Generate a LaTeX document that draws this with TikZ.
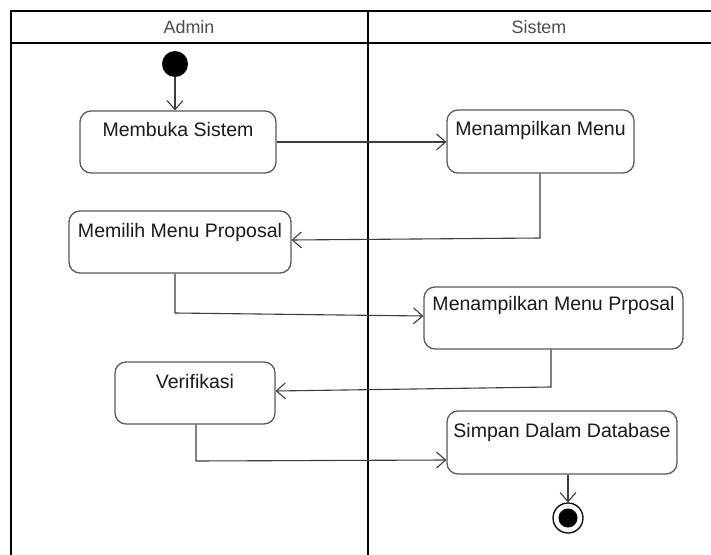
\documentclass[tikz,border=0pt]{standalone}
\usepackage{fontspec}
\setmainfont{Liberation Sans}
\usetikzlibrary{arrows.meta}
\definecolor{boxline}{HTML}{5A5A5A}
\definecolor{flowline}{HTML}{3C3C3C}
\definecolor{txt}{HTML}{1A1A1A}
\tikzset{
  act/.style={draw=boxline, line width=1.3bp, rounded corners=11bp, fill=white, inner sep=0pt},
  acttext/.style={text=txt, font=\fontsize{19.6}{21}\selectfont, inner sep=0pt, anchor=center},
  lanetext/.style={text=black!70, font=\fontsize{18}{20}\selectfont, inner sep=0pt},
  lane/.style={draw=black, line width=2.4bp},
  flow/.style={draw=flowline, line width=1.1bp, -{Straight Barb[length=9bp,width=16bp,line width=1.1bp]}},
}
\begin{document}
\begin{tikzpicture}[x=1bp,y=-1bp]
\useasboundingbox (0,0) rectangle (711,555);

% swimlane frame
\draw[lane] (11,555) -- (11,11) -- (711,11);
\draw[lane] (11,43) -- (711,43);
\draw[lane] (368,11) -- (368,555);
\node[lanetext] (hadmin) at (189,27) {Admin};
\node[lanetext] (hsistem) at (539,27) {Sistem};

% start and end points
\node[circle, fill=black, minimum size=26bp, inner sep=0pt] (start) at (175,64) {};
\node[circle, draw=black, line width=1.3bp, fill=white, minimum size=30bp, inner sep=0pt] (stop) at (568,518) {};
\node[circle, fill=black, minimum size=19bp, inner sep=0pt] (stopdot) at (568,518) {};

% activities
\node[act, minimum width=196bp, minimum height=62bp] (b1) at (178,142) {};
\node[act, minimum width=187bp, minimum height=63bp] (b2) at (540.5,141.5) {};
\node[act, minimum width=222bp, minimum height=62bp] (b3) at (180,242) {};
\node[act, minimum width=259bp, minimum height=62bp] (b4) at (553.5,318) {};
\node[act, minimum width=160bp, minimum height=62bp] (b5) at (195,393) {};
\node[act, minimum width=230bp, minimum height=63bp] (b6) at (562,442.5) {};

\node[acttext] (t1) at ([yshift=-19bp]b1.north) {Membuka Sistem};
\node[acttext] (t2) at ([yshift=-21bp]b2.north) {Menampilkan Menu};
\node[acttext] (t3) at ([yshift=-22bp]b3.north) {Memilih Menu Proposal};
\node[acttext] (t4) at ([yshift=-19bp]b4.north) {Menampilkan Menu Prposal};
\node[acttext] (t5) at ([yshift=-20bp]b5.north) {Verifikasi};
\node[acttext] (t6) at ([yshift=-22bp]b6.north) {Simpan Dalam Database};

% control flow
\coordinate (c2) at (540,238);
\coordinate (c3) at (175,313);
\coordinate (c4) at (551,387);
\coordinate (c5) at (196,461);

\draw[flow] (start) -- (start |- b1.north);
\draw[flow] (b1.east) -- (b2.west |- b1.east);
\draw[flow] (b2.south -| c2) -- (c2) -- (b3.east |- 0,240);
\draw[flow] (b3.south -| c3) -- (c3) -- (b4.west |- 0,316);
\draw[flow] (b4.south -| c4) -- (c4) -- (b5.east |- 0,391);
\draw[flow] (b5.south -| c5) -- (c5) -- (b6.west |- 0,460);
\draw[flow] (b6.south -| stop) -- (stop.north);
\end{tikzpicture}
\end{document}
